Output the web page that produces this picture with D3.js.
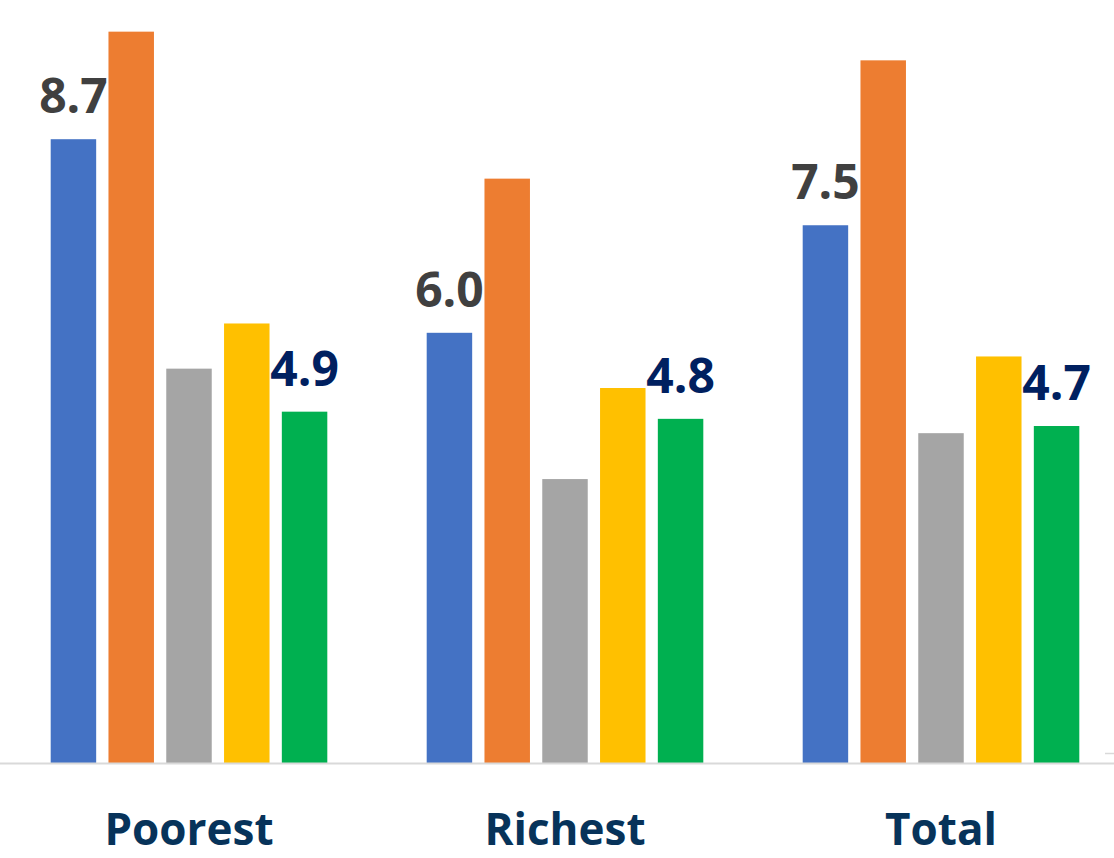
<!DOCTYPE html>
<html>
<head>
<meta charset="utf-8">
<script src="https://cdn.jsdelivr.net/npm/d3@7/dist/d3.min.js"></script>
<style>
  html, body { margin: 0; padding: 0; background: #fff; }
  svg { display: block; }
</style>
</head>
<body>
<svg id="chart" width="1114" height="858"></svg>
<script>
// Categories and series
const categories = ["Poorest", "Richest", "Total"];
const seriesNames = ["s1", "s2", "s3", "s4", "s5"];
const seriesColors = ["#4472C4", "#ED7D31", "#A5A5A5", "#FFC000", "#00B050"];

// Values per series, in category order
const s1Values = [8.7, 6.0, 7.5];
const s2Values = [10.2, 8.15, 9.8];
const s3Values = [5.5, 3.96, 4.6];
const s4Values = [6.13, 5.23, 5.67];
const s5Values = [4.9, 4.8, 4.7];
const allValues = [s1Values, s2Values, s3Values, s4Values, s5Values];

// Which series carry value labels, and their colours
const labelledSeries = { s1: "#404040", s5: "#002060" };

const svg = d3.select("#chart");
const baseY = 763;
const fontStack = "'Open Sans', Lato, sans-serif";

const x0 = d3.scaleBand().domain(categories).range([1, 1129]).padding(0);
const x1 = d3.scaleBand().domain(seriesNames).range([0, x0.bandwidth()])
  .paddingInner(0.213).paddingOuter(0.86);
const y = d3.scaleLinear().domain([0, 10]).range([baseY, 46]);

const rows = [];
categories.forEach((c, ci) => {
  seriesNames.forEach((s, si) => {
    rows.push({ cat: c, series: s, value: allValues[si][ci], color: seriesColors[si] });
  });
});

// Bars
svg.append("g").selectAll("rect").data(rows).join("rect")
  .attr("x", d => x0(d.cat) + x1(d.series))
  .attr("y", d => y(d.value))
  .attr("width", x1.bandwidth())
  .attr("height", d => baseY - y(d.value))
  .attr("fill", d => d.color);

// Category axis
const axis = svg.append("g").attr("transform", `translate(0,${baseY})`)
  .call(d3.axisBottom(x0).tickSize(0).tickPadding(0));
axis.select(".domain").attr("d", "M0,0.5H1114").attr("stroke", "#D9D9D9").attr("stroke-width", 2);
axis.selectAll(".tick text")
  .attr("dy", 0).attr("y", 82)
  .attr("font-family", fontStack)
  .attr("font-weight", "bold")
  .attr("font-size", 44)
  .attr("fill", "#07335A");

// Small mark at the right edge
svg.append("line")
  .attr("x1", 1105).attr("x2", 1114).attr("y1", 753.5).attr("y2", 753.5)
  .attr("stroke", "#D9D9D9").attr("stroke-width", 1.5);

// Value labels
svg.append("g").selectAll("text")
  .data(rows.filter(d => labelledSeries[d.series]))
  .join("text")
  .attr("x", d => x0(d.cat) + x1(d.series) + x1.bandwidth() / 2)
  .attr("y", d => y(d.value) - 26)
  .attr("text-anchor", "middle")
  .attr("font-family", fontStack)
  .attr("font-weight", "bold")
  .attr("font-size", 48)
  .attr("fill", d => labelledSeries[d.series])
  .text(d => d.value.toFixed(1));
</script>
</body>
</html>
